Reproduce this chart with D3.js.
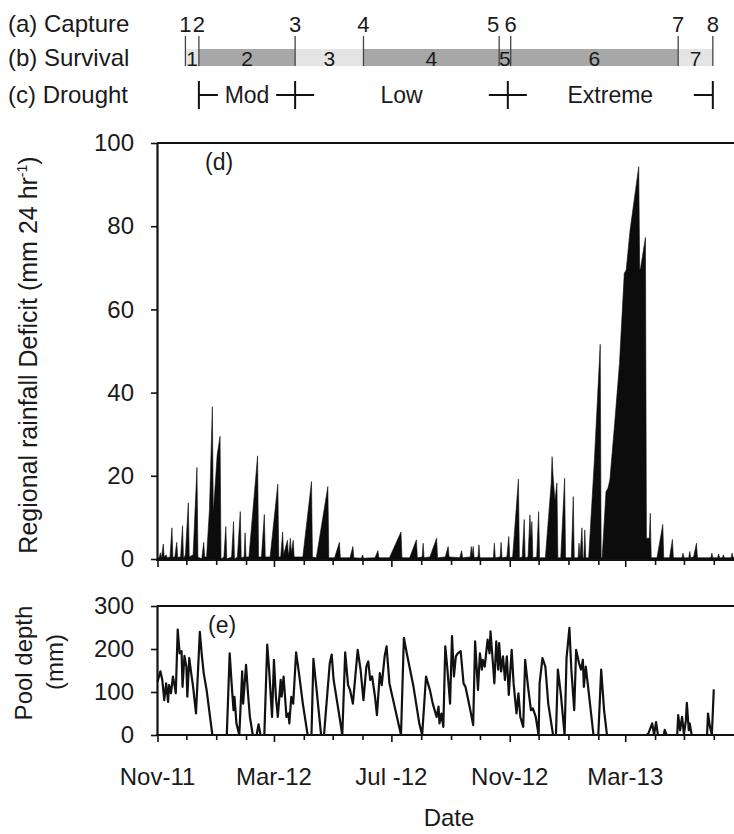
<!DOCTYPE html>
<html>
<head>
<meta charset="utf-8">
<script src="https://cdn.jsdelivr.net/npm/d3@7"></script>
<style>
  body { margin: 0; background: #fff; }
  svg { display: block; }
  text { font-family: "Liberation Sans", Arial, sans-serif; fill: #1a1a1a; }
</style>
</head>
<body>
<svg id="chart" width="734" height="834"></svg>
<script>
// ---- Record period -------------------------------------------------------
const recordStart = "2011-11-01";
const recordEnd = "2013-06-22";

// Regional rainfall deficit: [day of record, mm per 24 h]
const deficit = [
  [0,0],[2,0.5],[3,1.5],[4,0],[6,3.6],[7,0.4],[9,1],[10,0.3],[13,0.5],[15,7.5],[16,0.4],
  [18,0.5],[20,4],[21,0.4],[24,0.5],[26,8],[27,0],[29,1],[32,13.5],[33,0.5],[37,1],[41,22],
  [42,0.5],[46,0],[48,4],[49,0.5],[51,0.5],[54,12],[57,36.6],[58,11],[62,25],[65,29.5],[66,0],
  [69,0.5],[71,7.8],[72,0],[77,0.5],[79,9],[80,0],[83,0.5],[86,11.4],[87,0.3],[90,0.5],[91,6.3],
  [92,0.5],[95,0.5],[104,24.8],[105,0.5],[108,0.5],[111,10.7],[112,0.5],[117,0.5],[125,18],
  [126,0.5],[128,0.5],[130,6.5],[131,1],[135,4.5],[136,1],[137,2],[138,5],[139,1.5],[140,3],
  [141,4.5],[142,0.5],[151,0.5],[160,18.6],[161,0.5],[165,0.3],[177,17.4],[178,0.3],[184,0.3],
  [189,4],[190,0.3],[200,0.3],[203,3],[204,0.3],[212,0.2],[213,1],[214,0.2],[226,0.3],[229,2],
  [230,0.3],[241,0.3],[253,6.5],[254,0.3],[262,0.3],[269,4.6],[270,0.3],[275,0.5],[276,3.8],
  [277,0.3],[283,0.5],[290,5],[291,0.3],[299,0.5],[302,3],[303,0.5],[314,0.3],[316,2],[317,0.3],
  [325,0.5],[326,3],[327,1],[328,3],[329,0.3],[333,0.5],[334,3.4],[335,0.3],[349,0.3],[350,3.8],
  [351,0.3],[356,0.5],[357,4],[358,0.3],[363,0.5],[365,5.4],[366,0.3],[369,0.5],[375,19.2],
  [376,0.3],[379,0.5],[381,9.5],[382,0.3],[385,0.5],[387,10.6],[388,5],[389,9],[390,0.3],
  [394,0.5],[396,11.4],[397,0.3],[403,0.3],[409,18],[410,24.6],[411,20],[413,14],[415,18.3],
  [416,0.3],[419,0.3],[423,19.4],[424,0.3],[430,0.3],[432,15],[433,0.3],[437,0.3],[438,3.8],
  [439,0.3],[441,7.5],[442,0.3],[443,0.3],[444,7],[445,0.3],[448,0.3],[454,24],[460,51.6],
  [461,0.3],[462,0.3],[466,16.2],[468,17],[470,19],[475,32.6],[480,47],[485,68.7],[487,69.5],
  [491,79],[500,94.3],[501,69.5],[502,70],[507,77.3],[508,5],[511,5],[512,11],[513,0.3],
  [519,0.3],[525,8.3],[526,0.3],[532,0.3],[535,4.7],[536,0.3],[545,0.3],[546,1.4],[547,0.3],
  [552,0.3],[553,1.8],[554,0.3],[557,0.5],[560,3.8],[561,0.3],[575,0.3],[576,1.4],[577,0.3],
  [582,0.3],[583,1.2],[584,0.3],[587,0.3],[588,1],[589,0.3],[596,0.3],[597,1.4],[598,0.3],[600,0.5]
];

// Pool depth: [day of record, mm]
const poolDepth = [
  [0,124],[3,148],[5,128],[7,81],[9,120],[11,77],[12,116],[14,97],[16,136],[18,112],[19,97],
  [21,245],[23,190],[25,195],[26,112],[28,184],[30,159],[31,89],[33,179],[35,144],[37,112],
  [40,50],[44,240],[46,187],[48,144],[51,105],[57,0],[72,0],[75,190],[77,120],[79,58],[80,89],
  [82,27],[85,0],[88,148],[89,73],[92,163],[94,97],[96,42],[99,0],[103,0],[105,25],[107,0],
  [111,0],[114,210],[116,152],[119,42],[121,175],[123,89],[125,42],[128,128],[129,89],[131,136],
  [134,42],[136,50],[137,27],[139,89],[141,73],[144,192],[147,144],[151,73],[156,0],[160,0],
  [162,177],[165,112],[170,0],[173,0],[179,167],[181,187],[183,128],[188,58],[192,0],[195,192],
  [198,116],[200,105],[203,73],[208,198],[211,152],[214,81],[217,159],[219,171],[221,128],
  [223,136],[226,89],[228,46],[231,144],[233,116],[236,183],[238,206],[241,120],[248,50],
  [253,0],[256,226],[259,190],[266,112],[272,27],[275,0],[279,136],[281,120],[283,105],
  [286,73],[290,42],[292,66],[293,27],[295,50],[297,19],[299,206],[301,159],[304,73],[306,230],
  [308,136],[310,183],[312,190],[315,195],[318,120],[320,112],[325,58],[328,23],[330,218],
  [333,105],[335,190],[337,152],[338,175],[340,159],[343,222],[345,190],[346,241],[349,152],
  [350,120],[352,218],[354,152],[355,214],[357,148],[359,183],[361,128],[363,183],[365,93],
  [368,198],[370,120],[373,50],[375,97],[377,42],[380,19],[382,175],[385,112],[388,58],
  [390,62],[393,42],[396,0],[397,120],[400,179],[403,159],[406,73],[411,0],[414,0],[416,152],
  [419,97],[423,0],[425,179],[428,249],[430,152],[433,58],[435,198],[438,167],[440,152],
  [442,175],[443,112],[445,159],[447,120],[453,0],[458,0],[461,152],[464,58],[467,0],[508,0],
  [510,3],[514,27],[516,0],[518,30],[520,0],[526,0],[527,12],[529,0],[540,0],[541,46],[543,11],
  [545,42],[547,2],[549,34],[550,75],[552,11],[553,27],[555,0],[571,0],[572,50],[574,19],
  [576,0],[578,106]
];

// Capture sessions, survival intervals and drought periods
const captureDates = ["2011-11-30","2011-12-14","2012-03-23","2012-06-02","2012-10-21","2012-11-02","2013-04-25","2013-05-31"];
const captureLabels = ["1","2","3","4","5","6","7","8"];
const survivalLabels = ["1","2","3","4","5","6","7"];
const survivalShade = ["light","dark","light","dark","dark","dark","light"];
const droughtBounds = ["2011-12-14","2012-03-23","2012-10-30","2013-05-31"];
const droughtLabels = ["Mod","Low","Extreme"];

// Axis ticks
const labelledMonths = ["2011-11-01","2012-03-01","2012-07-01","2012-11-01","2013-03-01"];
const monthLabels = ["Nov-11","Mar-12","Jul -12","Nov-12","Mar-13"];
const deficitTicks = [0,20,40,60,80,100];
const depthTicks = [0,100,200,300];

// ---- Drawing ------------------------------------------------------------
const parse = d3.utcParse("%Y-%m-%d");
const t0 = parse(recordStart), t1 = parse(recordEnd);
const dayDate = d => d3.utcDay.offset(t0, d);

const svg = d3.select("#chart");
const axisX = 157, rightX = 734;
const x = d3.scaleUtc().domain([t0, t1]).range([157.5, rightX]);
const yD = d3.scaleLinear().domain([0, 100]).range([559, 143]);
const yE = d3.scaleLinear().domain([0, 300]).range([735, 606]);

const FS = 24;

// Top annotation rows
const rowLabels = [["(a) Capture", 32], ["(b) Survival", 66], ["(c) Drought", 103]];
svg.selectAll("text.rowlab").data(rowLabels).join("text")
  .attr("class", "rowlab").attr("x", 8).attr("y", d => d[1])
  .style("font-size", FS + "px").text(d => d[0]);

const caps = captureDates.map(parse);
// survival bar segments between capture dates
svg.selectAll("rect.surv").data(survivalLabels).join("rect")
  .attr("class", "surv")
  .attr("x", (d, i) => x(caps[i]))
  .attr("width", (d, i) => x(caps[i + 1]) - x(caps[i]))
  .attr("y", 49).attr("height", 17)
  .attr("fill", (d, i) => survivalShade[i] === "dark" ? "#a7a7a7" : "#e4e4e4");
svg.selectAll("text.survlab").data(survivalLabels).join("text")
  .attr("class", "survlab")
  .attr("x", (d, i) => (x(caps[i]) + x(caps[i + 1])) / 2)
  .attr("y", 65.5).attr("text-anchor", "middle")
  .style("font-size", "21px").text(d => d);

// capture lines + numbers
svg.selectAll("line.cap").data(caps).join("line")
  .attr("class", "cap")
  .attr("x1", d => x(d)).attr("x2", d => x(d))
  .attr("y1", 36).attr("y2", 66)
  .attr("stroke", "#444").attr("stroke-width", 1.3);
svg.selectAll("text.caplab").data(captureLabels).join("text")
  .attr("class", "caplab")
  .attr("x", (d, i) => {
    const cx = x(caps[i]);
    const crowded = i < caps.length - 1 && x(caps[i + 1]) - cx < 13;
    return crowded ? cx - 6 : cx;
  })
  .attr("y", 32).attr("text-anchor", "middle")
  .style("font-size", "22px").text(d => d);

// drought periods
const db = droughtBounds.map(parse);
const dg = svg.append("g").attr("stroke", "#111").attr("stroke-width", 2);
db.forEach((d, i) => {
  const cx = x(d);
  dg.append("line").attr("x1", cx).attr("x2", cx).attr("y1", 81).attr("y2", 109);
  const left = i > 0 ? 19 : 0, right = i < db.length - 1 ? 19 : 0;
  dg.append("line").attr("x1", cx - left).attr("x2", cx + right).attr("y1", 95).attr("y2", 95);
});
svg.selectAll("text.drought").data(droughtLabels).join("text")
  .attr("class", "drought")
  .attr("x", (d, i) => (x(db[i]) + x(db[i + 1])) / 2)
  .attr("y", 103).attr("text-anchor", "middle")
  .style("font-size", "23px").text(d => d);

// ---- Panel (d): rainfall deficit area ----
svg.append("defs").append("clipPath").attr("id", "clipD")
  .append("rect").attr("x", axisX).attr("y", 140).attr("width", rightX - axisX).attr("height", 422);

svg.append("path")
  .datum(deficit)
  .attr("clip-path", "url(#clipD)")
  .attr("fill", "#0c0c0c")
  .attr("stroke", "#0c0c0c").attr("stroke-width", 0.6)
  .attr("d", d3.area()
    .x(d => x(dayDate(d[0])))
    .y0(yD(0))
    .y1(d => yD(d[1])));

// ---- Panel (e): pool depth line ----
svg.append("path")
  .datum(poolDepth)
  .attr("fill", "none")
  .attr("stroke", "#111").attr("stroke-width", 2.2)
  .attr("stroke-linejoin", "round")
  .attr("d", d3.line()
    .x(d => x(dayDate(d[0])))
    .y(d => yE(d[1])));

// ---- Axes ----
const months = d3.utcMonth.range(t0, t1);
const labelled = labelledMonths.map(s => +parse(s));

function bottomAxis(yPos) {
  const g = svg.append("g").attr("transform", `translate(0,${yPos})`)
    .call(d3.axisBottom(x).tickValues(months).tickSize(5).tickSizeOuter(0).tickFormat(""));
  g.select(".domain").remove();
  g.selectAll(".tick line")
    .attr("stroke", "#111").attr("stroke-width", 1.6)
    .attr("y2", d => labelled.includes(+d) ? 7 : 5);
  g.append("line").attr("x1", axisX - 1).attr("x2", rightX)
    .attr("stroke", "#111").attr("stroke-width", 2.2);
  return g;
}
function leftAxis(scale, ticks) {
  const g = svg.append("g").attr("transform", `translate(${axisX},0)`)
    .call(d3.axisLeft(scale).tickValues(ticks).tickSize(6).tickSizeOuter(0).tickPadding(17));
  g.select(".domain").attr("stroke", "#111").attr("stroke-width", 2.2);
  g.selectAll(".tick line").attr("stroke", "#111").attr("stroke-width", 1.6);
  g.selectAll(".tick text").style("font-size", FS + "px")
    .style("font-family", '"Liberation Sans", Arial, sans-serif').attr("fill", "#1a1a1a");
  return g;
}

// top frame lines
svg.append("line").attr("x1", axisX).attr("x2", rightX).attr("y1", 143).attr("y2", 143)
  .attr("stroke", "#111").attr("stroke-width", 2.2);
svg.append("line").attr("x1", axisX).attr("x2", rightX).attr("y1", 606).attr("y2", 606)
  .attr("stroke", "#111").attr("stroke-width", 2.2);

leftAxis(yD, deficitTicks);
bottomAxis(560);
leftAxis(yE, depthTicks);
bottomAxis(735);

// month labels under panel (e)
svg.selectAll("text.month").data(monthLabels).join("text")
  .attr("class", "month")
  .attr("x", (d, i) => x(parse(labelledMonths[i])))
  .attr("y", 785).attr("text-anchor", "middle")
  .style("font-size", FS + "px").text(d => d);

svg.append("text").attr("x", 449).attr("y", 826).attr("text-anchor", "middle")
  .style("font-size", FS + "px").text("Date");

// panel tags
svg.append("text").attr("x", 205).attr("y", 170).style("font-size", "23px").text("(d)");
svg.append("text").attr("x", 208).attr("y", 633).style("font-size", "23px").text("(e)");

// y-axis titles
const tD = svg.append("text")
  .attr("transform", "translate(37,355) rotate(-90)")
  .attr("text-anchor", "middle").style("font-size", "25px");
tD.append("tspan").text("Regional rainfall Deficit (mm 24 hr");
tD.append("tspan").attr("dy", -10).style("font-size", "14px").text("-1");
tD.append("tspan").attr("dy", 10).text(")");

svg.append("text").attr("transform", "translate(32,663) rotate(-90)")
  .attr("text-anchor", "middle").style("font-size", FS + "px").text("Pool depth");
svg.append("text").attr("transform", "translate(63,662) rotate(-90)")
  .attr("text-anchor", "middle").style("font-size", FS + "px").text("(mm)");
</script>
</body>
</html>
